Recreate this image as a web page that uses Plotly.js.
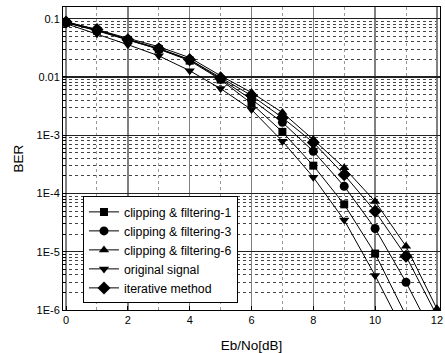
<!DOCTYPE html>
<html>
<head>
<meta charset="utf-8">
<script src="https://cdn.plot.ly/plotly-3.0.1.min.js"></script>
<style>html,body{margin:0;padding:0;background:#fff;}#chart{width:445px;height:353px;}</style>
</head>
<body>
<div id="chart"></div>
<script>
const ebno = [0,1,2,3,4,5,6,7,8,9,10,11,12];
const cf1 = [0.085, 0.062, 0.043, 0.030, 0.019, 0.0090, 0.0035, 0.00114, 0.00030, 6.5e-5, 9.3e-6, 8e-7];
const cf3 = [0.086, 0.063, 0.044, 0.031, 0.0198, 0.0093, 0.0041, 0.00166, 0.00053, 1.33e-4, 2.5e-5, 3.0e-6, 2.8e-7];
const cf6 = [0.088, 0.065, 0.046, 0.033, 0.0214, 0.0105, 0.0054, 0.00245, 0.00084, 2.75e-4, 7.3e-5, 1.24e-5, 1.05e-6];
const orig = [0.082, 0.055, 0.0358, 0.023, 0.0128, 0.0063, 0.00275, 0.00079, 0.00019, 3.5e-5, 3.9e-6, 3.6e-7];
const iter = [0.088, 0.065, 0.0436, 0.030, 0.0198, 0.0096, 0.0048, 0.0020, 0.00075, 2.1e-4, 4.95e-5, 8.4e-6, 8e-7];
const names = ["clipping & filtering-1","clipping & filtering-3","clipping & filtering-6","original signal","iterative method"];
const yTickVals = [1e-6,1e-5,1e-4,1e-3,0.01,0.1];
const yTickText = ["1E-6","1E-5","1E-4","1E-3","0.01","0.1"];

const series = [cf1, cf3, cf6, orig, iter];
const symbols = ["square","circle","triangle-up","triangle-down","diamond"];
const sizes = [8,9,9,9,10];
const traces = series.map((s,i)=>({
  x: ebno.slice(0, s.length), y: s, name: names[i], type:'scatter', mode:'lines+markers',
  line:{color:'#000', width:1},
  marker:{symbol:symbols[i], size:sizes[i], color:'#000'}
}));

const ff = '"Liberation Sans", Arial, sans-serif';
const font = {family:ff, size:11, color:'#000'};
const layout = {
  width:445, height:353,
  margin:{l:63, r:5, t:7, b:43},
  paper_bgcolor:'#fff', plot_bgcolor:'#fff',
  font: font,
  showlegend:true,
  legend:{x:0.053, y:0.375, xanchor:'left', yanchor:'top', bgcolor:'#fff', bordercolor:'#000', borderwidth:1,
          font:{family:ff, size:12.3, color:'#000'}, tracegroupgap:0},
  xaxis:{range:[-0.1,12.1], tickmode:'array', tickvals:[0,2,4,6,8,10,12], ticks:'inside', ticklen:4, tickcolor:'#000',
         showline:true, mirror:true, linecolor:'#000', linewidth:1,
         showgrid:true, gridcolor:'#808080', gridwidth:1.5, zeroline:false,
         minor:{dtick:1, showgrid:true, gridcolor:'#999', griddash:'dot', gridwidth:1, ticks:''},
         title:{text:'Eb/No[dB]', font:{family:ff, size:13.5}, standoff:17}, tickfont:font},
  yaxis:{type:'log', range:[-6,-0.8], tickmode:'array', tickvals:yTickVals, ticktext:yTickText,
         ticks:'inside', ticklen:4, tickcolor:'#000',
         showline:true, mirror:true, linecolor:'#000', linewidth:1,
         showgrid:true, gridcolor:'#222', gridwidth:1.2, zeroline:false,
         minor:{dtick:'D1', showgrid:true, gridcolor:'#444', griddash:'dot', gridwidth:1, ticks:'inside', ticklen:3, tickcolor:'#000'},
         title:{text:'BER', font:{family:ff, size:13.5}, standoff:9}, tickfont:font}
};
Plotly.newPlot('chart', traces, layout, {staticPlot:true, displayModeBar:false});
</script>
</body>
</html>
